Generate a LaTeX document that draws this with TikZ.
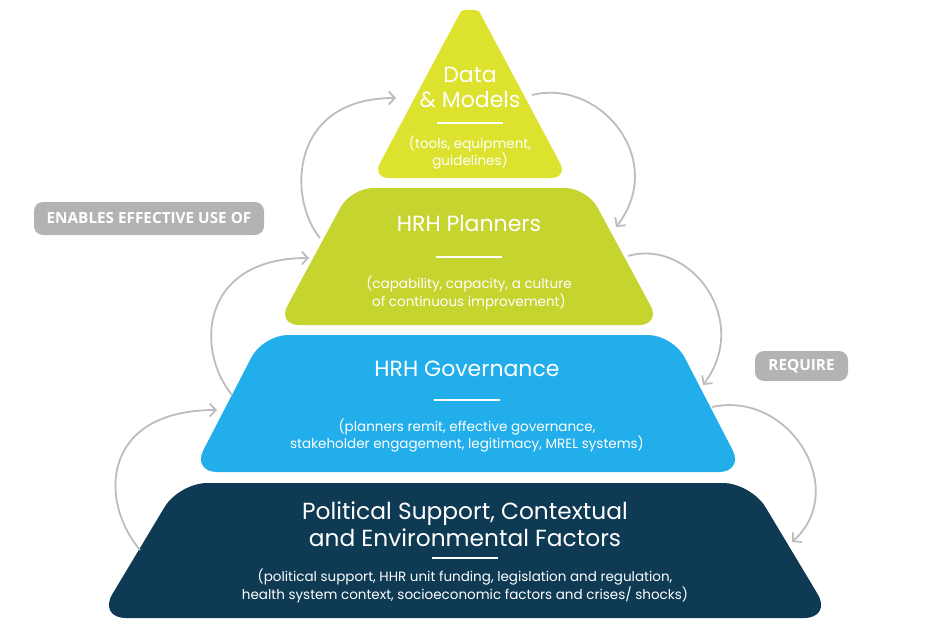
\documentclass[tikz,border=0pt]{standalone}
\usepackage{fontspec}
\setmainfont{Poppins}
\newfontfamily\tagfont{Open Sans}
\usetikzlibrary{arrows.meta}
\definecolor{triC}{HTML}{DCE22E}
\definecolor{limeC}{HTML}{C6D42F}
\definecolor{blueC}{HTML}{22AEEB}
\definecolor{navyC}{HTML}{0E3A53}
\definecolor{arrowC}{HTML}{BDBDBD}
\definecolor{tagC}{HTML}{B3B3B3}
\begin{document}
\begin{tikzpicture}[x=1pt,y=-1pt,
  conn/.style={draw=arrowC, line width=1.8pt, -{Straight Barb[length=6pt,width=13pt]}},
  ttl/.style={text=white, font=\fontsize{22}{25}\selectfont, align=center, inner sep=0pt},
  bigttl/.style={text=white, font=\fontsize{23.3}{27}\selectfont, align=center, inner sep=0pt},
  sub/.style={text=white, font=\fontsize{13.5}{15}\selectfont, align=center, inner sep=0pt},
  rulebar/.style={fill=white, minimum width=66pt, minimum height=2.6pt, inner sep=0pt},
  tag/.style={fill=tagC, rounded corners=9pt, text=white, font=\tagfont\bfseries\fontsize{15.3}{17}\selectfont, inner sep=0pt, align=center}
]
\useasboundingbox (0,0) rectangle (931,632);
\fill[white] (0,0) rectangle (931,632);

% tiers
\fill[triC, rounded corners=17pt] (452.7,26.6) .. controls (462.2,9.2) and (477.8,9.2) .. (487.3,26.6) -- (568,178) -- (372,178) -- cycle;
\fill[limeC, rounded corners=22pt] (469,188) -- (587,188) -- (661,325) -- (277,325) -- (351,188) -- cycle;
\fill[blueC, rounded corners=25pt] (468,335) -- (673,335) -- (744,472) -- (192,472) -- (263,335) -- cycle;
\fill[navyC, rounded corners=28pt] (465,483) -- (751,483) -- (832,618) -- (98,618) -- (179,483) -- cycle;

% texts
\node[ttl] (dmT) at (470,87.5) {Data\\\& Models};
\node[rulebar] (dmR) at (470,123) {};
\node[sub] (dmS) at (470,152.5) {(tools, equipment,\\guidelines)};

\node[ttl] (plT) at (469,223) {HRH Planners};
\node[rulebar] (plR) at (469,257) {};
\node[sub] (plS) at (469,293) {(capability, capacity, a culture\\of continuous improvement)};

\node[ttl] (gvT) at (467,369) {HRH Governance};
\node[rulebar] (gvR) at (467,400) {};
\node[sub] (gvS) at (467,435.5) {(planners remit, effective governance,\\stakeholder engagement, legitimacy, MREL systems)};

\node[bigttl] (poT) at (465,524.5) {Political Support, Contextual\\and Environmental Factors};
\node[rulebar] (poR) at (465,558) {};
\node[sub] (poS) at (465,586) {(political support, HHR unit funding, legislation and regulation,\\health system context, socioeconomic factors and crises/ shocks)};

% tags
\node[tag, minimum width=230pt, minimum height=33pt] (enab) at (149,218.5) {ENABLES EFFECTIVE USE OF};
\node[tag, minimum width=93pt, minimum height=30pt] (req) at (801.5,366) {REQUIRE};

% connector ends
\coordinate (a1s) at (320,238); \coordinate (a1e) at (396,98);
\coordinate (a2s) at (532,95);  \coordinate (a2e) at (616,227);
\coordinate (a3s) at (232,395); \coordinate (a3e) at (309,258);
\coordinate (a4s) at (628,256); \coordinate (a4e) at (703,385);
\coordinate (a5s) at (140,550); \coordinate (a5e) at (217,410);
\coordinate (a6s) at (712,407); \coordinate (a6e) at (792,542);

\draw[conn] (a1s) .. controls (288,200) and (288,98) .. (a1e);
\draw[conn] (a2s) .. controls (600,78) and (668,160) .. (a2e);
\draw[conn] (a3s) .. controls (195,350) and (200,258) .. (a3e);
\draw[conn] (a4s) .. controls (690,238) and (752,320) .. (a4e);
\draw[conn] (a5s) .. controls (98,500) and (102,410) .. (a5e);
\draw[conn] (a6s) .. controls (790,390) and (850,490) .. (a6e);
\end{tikzpicture}
\end{document}
